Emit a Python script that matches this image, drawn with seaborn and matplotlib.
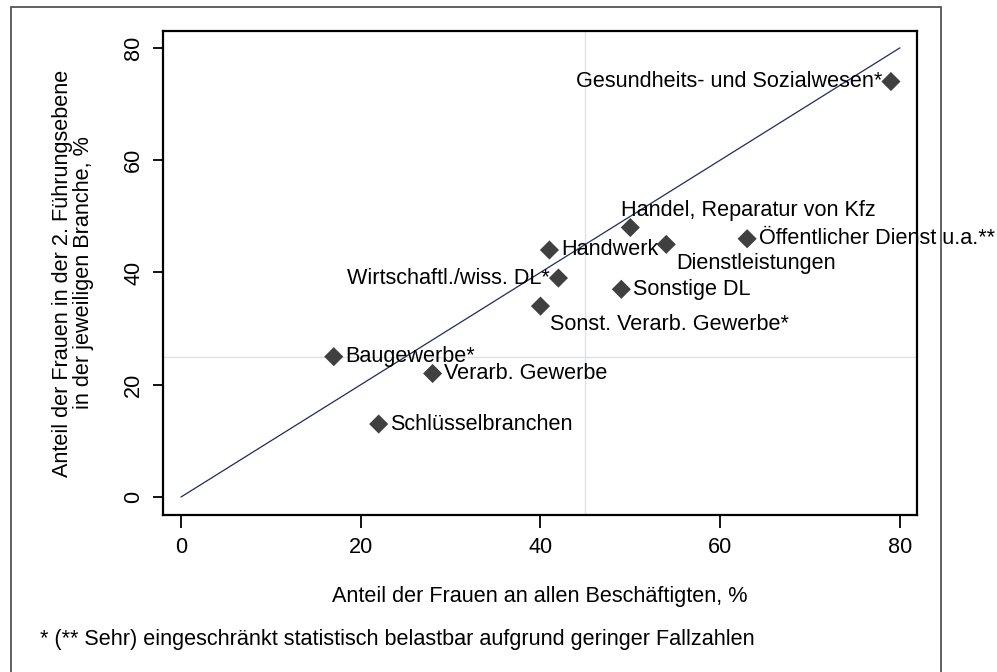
import matplotlib
matplotlib.use("Agg")
import matplotlib.pyplot as plt
from matplotlib.patches import Rectangle
import seaborn as sns
import pandas as pd


# data
branches = [
    "Gesundheits- und Sozialwesen*",
    "Handel, Reparatur von Kfz",
    "Handwerk",
    "Dienstleistungen",
    "Öffentlicher Dienst u.a.**",
    "Wirtschaftl./wiss. DL*",
    "Sonstige DL",
    "Sonst. Verarb. Gewerbe*",
    "Baugewerbe*",
    "Verarb. Gewerbe",
    "Schlüsselbranchen",
]
share_all = [79, 50, 41, 54, 63, 42, 49, 40, 17, 28, 22]
share_lead2 = [74, 48, 44, 45, 46, 39, 37, 34, 25, 22, 13]
diagonal = [0, 80]
ref_x = 45
ref_y = 25
ticks = [0, 20, 40, 60, 80]

XLABEL = "Anteil der Frauen an allen Beschäftigten, %"
YLABEL = "Anteil der Frauen in der 2. Führungsebene\nin der jeweiligen Branche, %"
NOTE = "* (** Sehr) eingeschränkt statistisch belastbar aufgrund geringer Fallzahlen"

# label placement (stata-like clock positions), layout only
label_clock = {
    "Gesundheits- und Sozialwesen*": 9,
    "Handel, Reparatur von Kfz": 1,
    "Dienstleistungen": 4,
    "Wirtschaftl./wiss. DL*": 9,
    "Sonst. Verarb. Gewerbe*": 4,
}
clock_style = {
    3: dict(offset=(8.5, 0), ha="left", va="center"),
    9: dict(offset=(-6.5, 0), ha="right", va="center"),
    4: dict(offset=(7, -13.5), ha="left", va="center"),
    1: dict(offset=(-6.5, 12.5), ha="left", va="center"),
}

FS = 15.6


def main():
    df = pd.DataFrame({"branche": branches, "x": share_all, "y": share_lead2})

    sns.set_style("white")
    plt.rcParams["font.family"] = ["Liberation Sans", "DejaVu Sans"]
    plt.rcParams["text.color"] = "black"
    plt.rcParams["axes.labelcolor"] = "black"

    fig = plt.figure(figsize=(9.97, 6.72), dpi=100)
    ax = fig.add_axes([163 / 997, 1 - 515 / 672, (917 - 163) / 997, (515 - 31) / 672])

    ax.axvline(ref_x, color="#d8e2ea", lw=1, zorder=1)
    ax.axhline(ref_y, color="#d8e2ea", lw=1, zorder=1)
    sns.lineplot(x=diagonal, y=diagonal, ax=ax, color="#1c2c5c", lw=0.9, zorder=2)
    sns.scatterplot(data=df, x="x", y="y", ax=ax, marker="D", s=95,
                    color="#404040", edgecolor="none", zorder=3)

    for name, xv, yv in zip(branches, share_all, share_lead2):
        st = clock_style[label_clock.get(name, 3)]
        ax.annotate(name, (xv, yv), xytext=st["offset"], textcoords="offset points",
                    ha=st["ha"], va=st["va"], fontsize=FS, color="black",
                    annotation_clip=False, zorder=4)

    ax.set_xlim(-2, 81.9)
    ax.set_ylim(-3.2, 83)
    ax.set_xticks(ticks)
    ax.set_yticks(ticks)
    ax.tick_params(axis="both", labelsize=FS, colors="black", labelcolor="black",
                   width=1.3, direction="out", bottom=True, left=True)
    ax.tick_params(axis="x", length=9, pad=7)
    ax.tick_params(axis="y", length=7.5, pad=6)
    for lab in ax.get_yticklabels():
        lab.set_rotation(90)
        lab.set_va("center")
    for sp in ax.spines.values():
        sp.set_color("black")
        sp.set_linewidth(1.6)

    ax.set_xlabel(XLABEL, fontsize=FS, labelpad=20, color="black")
    ax.set_ylabel(YLABEL, fontsize=FS, labelpad=21, linespacing=1.0, color="black")

    fig.text(40 / 997, 1 - 639 / 672, NOTE, fontsize=FS, va="center", ha="left",
             color="black")

    frame = Rectangle((11 / 997, -0.05), (941 - 11) / 997, 1 - 7 / 672 + 0.05,
                      transform=fig.transFigure, fill=False, edgecolor="#555555",
                      lw=1.3, clip_on=False)
    fig.patches.append(frame)

    fig.savefig("out.png", dpi=100)


if __name__ == "__main__":
    main()
